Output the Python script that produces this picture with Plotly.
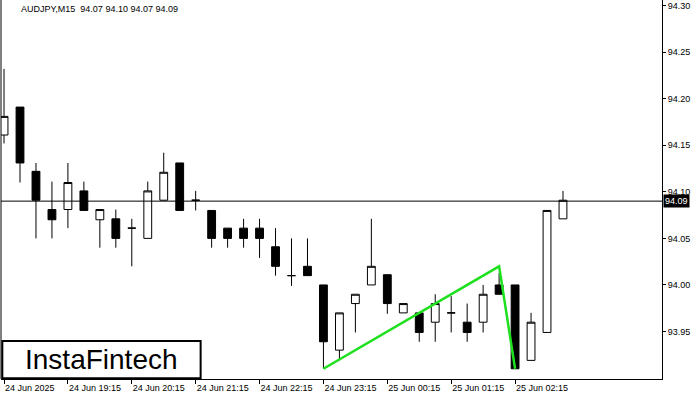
import plotly.graph_objects as go

opens  = [94.161,94.191,94.122,94.081,94.081,94.101,94.070,94.071,94.061,94.050,94.091,94.131,94.091,94.080,94.061,94.061,94.061,94.041,94.010,94.020,
          94.000,93.930,93.980,94.000,94.011,93.970,93.970,93.960,93.970,93.960,93.960,94.000,94.000,93.919,93.949,94.071]
highs  = [94.232,94.191,94.131,94.111,94.131,94.111,94.081,94.081,94.071,94.111,94.142,94.131,94.101,94.080,94.061,94.071,94.071,94.061,94.050,94.050,
          94.000,93.970,93.990,94.071,94.011,93.980,93.970,93.990,93.988,93.980,94.000,94.013,94.000,93.970,94.080,94.101]
lows   = [94.152,94.110,94.050,94.050,94.061,94.080,94.040,94.040,94.020,94.050,94.091,94.080,94.080,94.040,94.040,94.040,94.029,94.010,93.999,94.010,
          93.910,93.919,93.949,94.000,93.969,93.970,93.939,93.939,93.949,93.939,93.949,93.990,93.910,93.919,93.949,94.071]
closes = [94.181,94.131,94.091,94.070,94.110,94.080,94.081,94.050,94.061,94.101,94.121,94.080,94.091,94.050,94.050,94.050,94.050,94.020,94.010,94.010,
          93.939,93.970,93.990,94.020,93.980,93.980,93.949,93.980,93.970,93.949,93.990,93.990,93.910,93.960,94.080,94.091]
x = list(range(len(opens)))

tick_idx = [0,4,8,12,16,20,24,28,32]
tick_text = ["24 Jun 2025","24 Jun 19:15","24 Jun 20:15","24 Jun 21:15","24 Jun 22:15",
             "24 Jun 23:15","25 Jun 00:15","25 Jun 01:15","25 Jun 02:15"]
price_ticks = [93.95,94.00,94.05,94.10,94.15,94.20,94.25,94.30]
pattern_x = [20,31,32]
pattern_y = [93.910,94.020,93.910]
last_price = 94.09

fig = go.Figure()
fig.add_trace(go.Candlestick(x=x, open=opens, high=highs, low=lows, close=closes,
    increasing=dict(line=dict(color="black", width=1), fillcolor="white"),
    decreasing=dict(line=dict(color="black", width=1), fillcolor="black"),
    whiskerwidth=0, showlegend=False))
fig.add_trace(go.Scatter(x=pattern_x, y=pattern_y, mode="lines",
    line=dict(color="#1ee01e", width=2.5), showlegend=False))
fig.add_shape(type="line", xref="paper", x0=0, x1=1, y0=last_price, y1=last_price,
              line=dict(color="black", width=1))
fig.add_annotation(xref="paper", x=1.0, y=last_price, text="94.09", showarrow=False,
    xanchor="left", xshift=1, bgcolor="black", font=dict(color="white", size=9, family="Liberation Sans"), borderpad=1)
fig.add_annotation(xref="paper", yref="paper", x=0.027, y=0.995, text="AUDJPY,M15  94.07 94.10 94.07 94.09",
    showarrow=False, xanchor="left", yanchor="top", font=dict(size=9, family="Liberation Sans", color="black"))
fig.add_shape(type="rect", xref="paper", yref="paper", x0=0.002, x1=0.302, y0=0.002, y1=0.10,
    line=dict(color="black", width=2), fillcolor="white", layer="above")
fig.add_annotation(xref="paper", yref="paper", x=0.152, y=0.051, text="InstaFintech", showarrow=False,
    xanchor="center", yanchor="middle", font=dict(size=28, family="Liberation Sans", color="black"))

fig.update_layout(width=700, height=400, margin=dict(l=1, r=38, t=0, b=21, autoexpand=False),
    paper_bgcolor="white", plot_bgcolor="white",
    xaxis=dict(range=[-0.19, 41.2], rangeslider=dict(visible=False), tickvals=tick_idx, ticktext=tick_text,
               ticks="outside", ticklen=4, tickcolor="black", showgrid=False, zeroline=False, automargin=False,
               showline=True, linecolor="black", ticklabelposition="outside right",
               tickfont=dict(size=9, family="Liberation Sans", color="black")),
    yaxis=dict(range=[93.899, 94.306], side="right", tickvals=price_ticks, tickformat=".2f",
               ticks="outside", ticklen=3, tickcolor="black", showgrid=False, zeroline=False, automargin=False,
               showline=True, linecolor="black",
               tickfont=dict(size=9, family="Liberation Sans", color="black")))
fig.add_shape(type="line", xref="paper", yref="paper", x0=0, x1=0, y0=0, y1=1, line=dict(color="black", width=1))
fig.write_html("out.html", config={"displayModeBar": False},
               post_script="document.body.style.margin='0';document.body.style.overflow='hidden';")
